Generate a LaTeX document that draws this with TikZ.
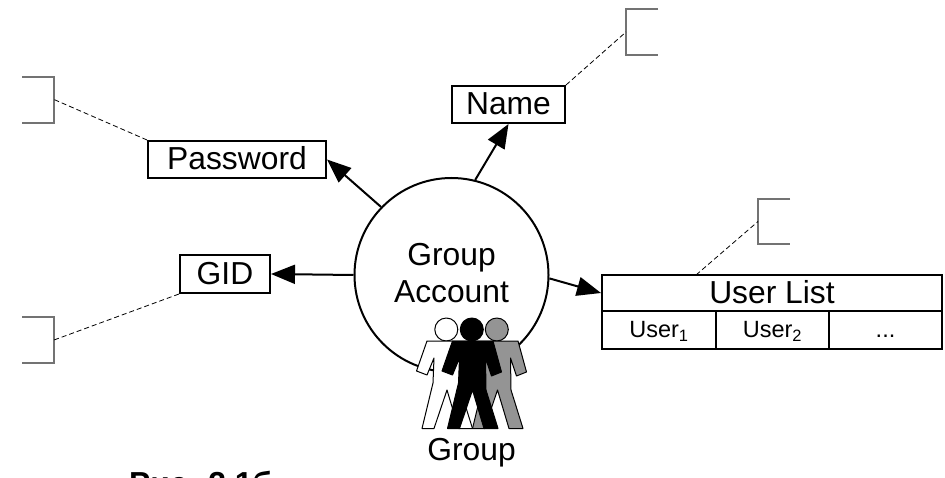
\documentclass[tikz,border=0pt]{standalone}
\usepackage{fontspec}
\setmainfont{Liberation Sans}
\usetikzlibrary{arrows.meta}
\tikzset{
  box/.style={draw=black,line width=2pt,inner sep=0pt,text height=21pt,text depth=0pt,font=\fontsize{31.8}{35}\selectfont},
  small/.style={box,text height=15pt,text depth=0pt,font=\fontsize{23.5}{26}\selectfont},
  link/.style={line width=2pt,-{Triangle[length=24pt,width=19pt]}},
  note/.style={draw=black,line width=0.8pt,dash pattern=on 5pt off 3pt},
  bracket/.style={draw=black!55,line width=1.4pt},
  txt/.style={inner sep=0pt,font=\fontsize{31.8}{37}\selectfont},
  person/.style={draw=black,line width=1pt,line join=round}
}
\newcommand{\personshape}[2]{%
  \begin{scope}[shift={(#1,0)}]
    \path[person,fill=#2] (446.3,329.5) circle (11.5);
    \path[person,fill=#2]
      (427,341) -- (467.5,341) -- (476,372) -- (466,376) -- (460,358)
      -- (460.5,390) -- (472.5,428.5) -- (458.5,428.5) -- (447,390) -- (434,428.5)
      -- (422,428.5) -- (433,383) -- (434,358) -- (427,375) -- (416.5,371) -- cycle;
  \end{scope}}
\begin{document}
\begin{tikzpicture}[x=1pt,y=-1pt]
\useasboundingbox[clip] (0,0) rectangle (945,478);
\fill[white] (0,0) rectangle (945,478);

\node[circle,draw=black,line width=2pt,minimum size=194pt,inner sep=0pt] (acct) at (451.5,275) {};
\node[txt,anchor=base] (acctA) at (451.5,266) {Group};
\node[txt,anchor=base] (acctB) at (451.5,303) {Account};

\personshape{0}{white}
\personshape{50.5}{black!42}
\personshape{25.5}{black}
\node[txt,anchor=base] (grp) at (471.5,460) {Group};

\node[box,minimum width=178pt,minimum height=37pt] (pw) at (237,159.5) {Password};
\node[box,minimum width=90pt,minimum height=38pt] (gid) at (225,274) {GID};
\node[box,minimum width=113pt,minimum height=37pt] (name) at (508.5,104.5) {Name};
\node[box,minimum width=340pt,minimum height=36pt] (list) at (772,293) {User List};
\node[small,minimum width=114pt,minimum height=38pt] (u1) at (659,330) {User\textsubscript{1}};
\node[small,minimum width=113pt,minimum height=38pt] (u2) at (772.5,330) {User\textsubscript{2}};
\node[small,minimum width=113pt,minimum height=38pt] (u3) at (885.5,330) {...};

\draw[link] (acct.136) -- (pw.east);
\draw[link] (acct.west) -- (gid.east);
\draw[link] (acct.76) -- (name.south);
\draw[link] (acct.-2) -- (list.west);

\coordinate (b1) at (54,99.5);
\coordinate (b2) at (54,340);
\coordinate (b3) at (626,32);
\coordinate (b4) at (758,221.5);
\draw[bracket] (22,77) -- (54,77) -- (54,123) -- (22,123);
\draw[bracket] (22,317) -- (54,317) -- (54,363) -- (22,363);
\draw[bracket] (658,9) -- (626,9) -- (626,55) -- (658,55);
\draw[bracket] (790,199) -- (758,199) -- (758,244) -- (790,244);

\draw[note] (pw.north west) -- (b1);
\draw[note] (gid.south west) -- (b2);
\draw[note] (name.north east) -- (b3);
\coordinate (lt) at (696,275);
\draw[note] (lt) -- (b4);

\node[txt,anchor=base west,font=\bfseries\fontsize{31.8}{37}\selectfont] (cap) at (129,494) {Рис. 2.1б};
\end{tikzpicture}
\end{document}
